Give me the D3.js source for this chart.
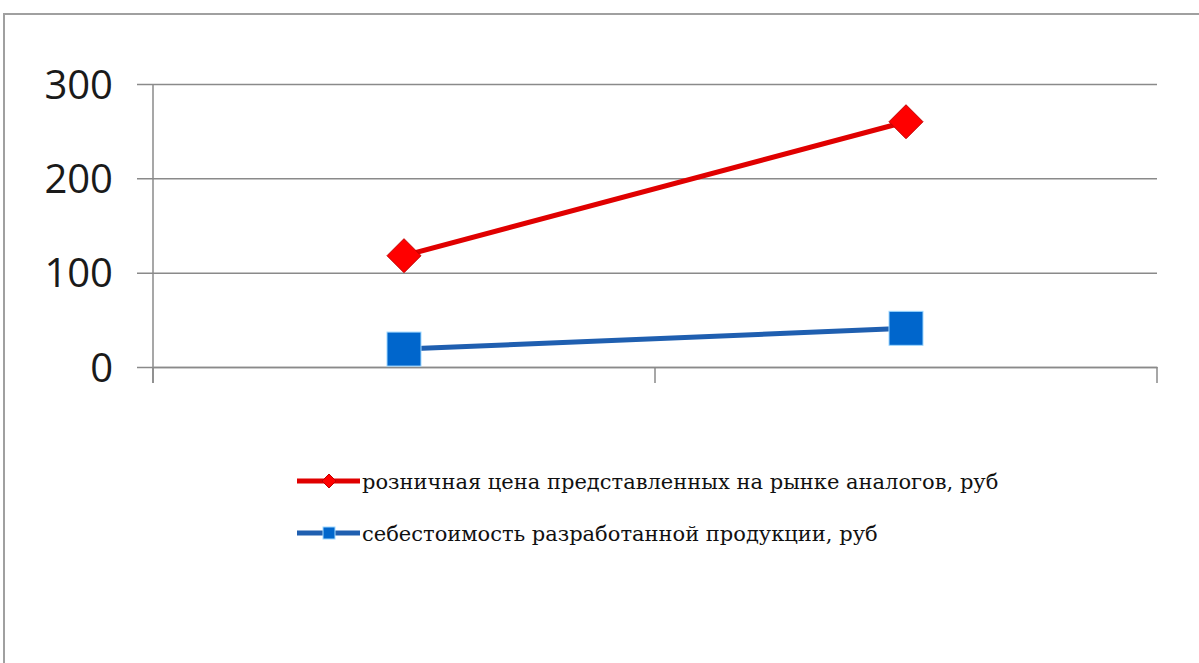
<!DOCTYPE html>
<html><head><meta charset="utf-8">
<script src="https://cdn.jsdelivr.net/npm/d3@7"></script>
<style>html,body{margin:0;padding:0;background:#fff;}svg{display:block;}</style>
</head><body>
<svg id="c" width="1199" height="663"></svg>
<script>
const categories = ["1", "2"];
const seriesNames = ["розничная цена представленных на рынке аналогов, руб", "себестоимость разработанной продукции, руб"];
const retailPrice = [118, 260];
const costPrice = [19, 41];
const yTicks = [0, 100, 200, 300];

(function(){
const svg = d3.select("#c");
const W = 1199, H = 663;
svg.append("path").attr("d", `M4,${H} L4,14 L${W},14`).attr("fill","none").attr("stroke","#a0a0a0").attr("stroke-width",2);

const pL = 153, pR = 1157, pT = 84, pB = 367;
const x = d3.scaleBand().domain(categories).range([pL, pR]);
const y = d3.scaleLinear().domain([0, 300]).range([pB, pT]);

const yAxis = d3.axisLeft(y).tickValues(yTicks).tickSize(-(pR - pL)).tickPadding(24).tickFormat(d3.format("d"));
const gy = svg.append("g").attr("transform", `translate(${pL},0)`).call(yAxis);
gy.select(".domain").remove();
gy.selectAll(".tick line").attr("stroke","#8a8a8a").attr("stroke-width",1.5).attr("x1", -16);
gy.selectAll(".tick text").attr("font-family","'Open Sans', sans-serif").attr("font-size",40).attr("fill","#1a1a1a").attr("x",-40).attr("dy","0.35em");
svg.append("line").attr("x1",pL).attr("x2",pL).attr("y1",pT).attr("y2",pB+16).attr("stroke","#8a8a8a").attr("stroke-width",1.5);

const xAxis = d3.axisBottom(x).tickSize(0).tickFormat("");
const gx = svg.append("g").attr("transform", `translate(0,${pB})`).call(xAxis);
gx.select(".domain").attr("stroke","#8a8a8a").attr("stroke-width",1.5);
const bounds = [pL, ...categories.slice(1).map(c => x(c)), pR];
svg.selectAll("line.xt").data(bounds).enter().append("line").attr("class","xt")
  .attr("x1", d=>d).attr("x2", d=>d).attr("y1", pB).attr("y2", pB+16)
  .attr("stroke","#8a8a8a").attr("stroke-width",1.5);

const cx = c => x(c) + x.bandwidth()/2;
const line = d3.line().x((d,i)=>cx(categories[i])).y(d=>y(d));

const series = [
  {name: seriesNames[0], values: retailPrice, stroke:"#e00000", fill:"#ff0000", edge:"#c00000", shape:"diamond"},
  {name: seriesNames[1], values: costPrice, stroke:"#1f5fb0", fill:"#0066cc", edge:"#0a55a8", shape:"square"}
];

function marker(g, shape, s, fill, edge) {
  if (shape === "diamond") {
    g.append("path").attr("d", `M0,${-s} L${s},0 L0,${s} L${-s},0 Z`).attr("fill", fill).attr("stroke", edge).attr("stroke-width",1);
  } else {
    g.append("rect").attr("x",-s).attr("y",-s).attr("width",2*s).attr("height",2*s).attr("fill",fill).attr("stroke","#9fd8ff").attr("stroke-width",1);
  }
}

series.forEach(s => {
  svg.append("path").datum(s.values).attr("d", line).attr("fill","none").attr("stroke", s.stroke).attr("stroke-width",5);
  s.values.forEach((v,i) => {
    const g = svg.append("g").attr("transform", `translate(${cx(categories[i])},${y(v)})`);
    marker(g, s.shape, 17, s.fill, s.edge);
  });
});

const lg = svg.append("g");
series.forEach((s,i) => {
  const ly = 481 + i*52;
  lg.append("line").attr("x1",297).attr("x2",360).attr("y1",ly).attr("y2",ly).attr("stroke",s.stroke).attr("stroke-width",5);
  const g = lg.append("g").attr("transform",`translate(329,${ly})`);
  if (s.shape==="diamond") marker(g,"diamond",7,s.fill,s.edge);
  else marker(g,"square",6,s.fill,s.edge);
  lg.append("text").attr("x",362).attr("y",ly).attr("dy","0.38em")
    .style("font-family","'DejaVu Serif', serif").style("font-size","21px").attr("fill","#111").text(s.name);
});
})();
</script>
</body></html>
